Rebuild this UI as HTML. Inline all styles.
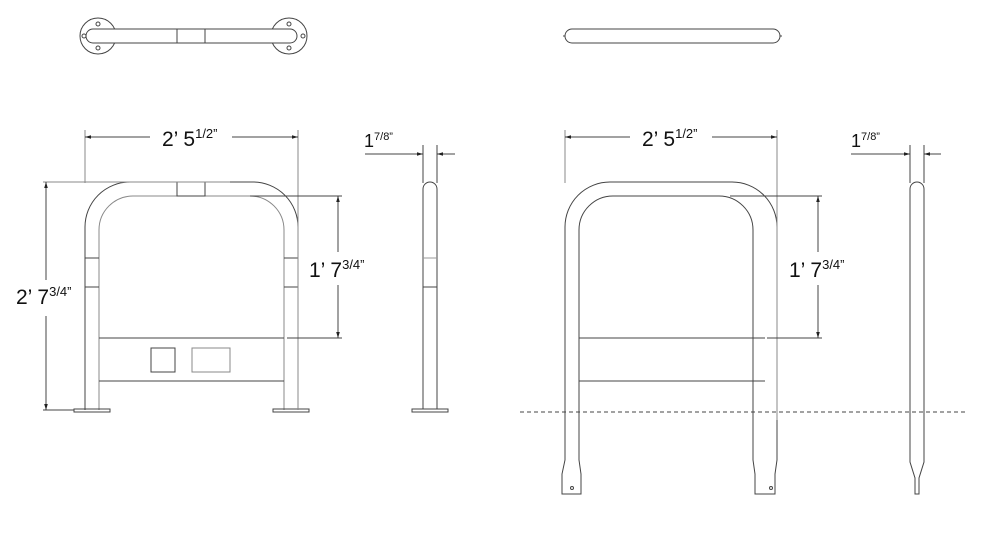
<!DOCTYPE html>
<html><head><meta charset="utf-8"><style>
html,body{margin:0;padding:0;background:#fff;width:1000px;height:546px;overflow:hidden}
svg{display:block}
text{font-family:"Liberation Sans",sans-serif;fill:#111}
</style></head><body>
<svg width="1000" height="546" viewBox="0 0 1000 546" xmlns="http://www.w3.org/2000/svg">
<defs>
<marker id="a" viewBox="0 0 10 6" refX="10" refY="3" markerWidth="6" markerHeight="4" orient="auto-start-reverse"><path d="M0,0L10,3L0,6z" fill="#222"/></marker>
</defs>
<g fill="none" stroke="#444" stroke-width="1">
<circle cx="98" cy="36" r="18"/><circle cx="289" cy="36" r="18"/>
<circle cx="98" cy="24" r="2"/><circle cx="98" cy="48" r="2"/><circle cx="84" cy="36" r="2"/>
<circle cx="289" cy="24" r="2"/><circle cx="289" cy="48" r="2"/><circle cx="303" cy="36" r="2"/>
<rect x="86" y="29" width="211" height="14" rx="7" fill="#fff"/>
<line x1="177" y1="29" x2="177" y2="43"/><line x1="205" y1="29" x2="205" y2="43"/>
<rect x="565" y="29" width="215" height="14" rx="7"/>
<path d="M565,36h-2M780,36h2"/>
<path d="M85,410V227A45,45 0 0 1 130,182H253A45,45 0 0 1 298,227V410"/>
<path d="M99,410V230A34,34 0 0 1 133,196H250A34,34 0 0 1 284,230V410" stroke="#888"/>
<rect x="177" y="182" width="28" height="14"/>
<path d="M85,258H99M85,287H99M284,258H298M284,287H298"/>
<path d="M99,338H284M99,381H284"/>
<rect x="151" y="348" width="24" height="24"/><rect x="192" y="348" width="38" height="24" stroke="#888"/>
<rect x="74" y="409" width="36" height="3"/><rect x="273" y="409" width="36" height="3"/>
<path d="M85,130V183M298,130V410" stroke="#888"/>
<line x1="85" y1="137" x2="150" y2="137" marker-start="url(#a)"/>
<line x1="232" y1="137" x2="298" y2="137" marker-end="url(#a)"/>
<path d="M43,182H230" stroke="#888"/><path d="M43,410H74"/>
<line x1="46" y1="182" x2="46" y2="280" marker-start="url(#a)"/>
<line x1="46" y1="316" x2="46" y2="410" marker-end="url(#a)"/>
<path d="M250,196H342M287,338H342"/>
<line x1="338" y1="196" x2="338" y2="252" marker-start="url(#a)"/>
<line x1="338" y1="285" x2="338" y2="338" marker-end="url(#a)"/>
<path d="M423,409V189A7,7 0 0 1 437,189V409"/>
<path d="M423,258H437" stroke="#999"/><path d="M423,287H437"/>
<rect x="412" y="409" width="36" height="3"/>
<path d="M423,145V183M437,145V183"/>
<line x1="365" y1="154" x2="423" y2="154" marker-end="url(#a)"/>
<line x1="455" y1="154" x2="437" y2="154" marker-end="url(#a)"/>
<path d="M565,460V227A45,45 0 0 1 610,182H732A45,45 0 0 1 777,227V460L775,474V494H755V474L753,460V230A34,34 0 0 0 719,196H613A34,34 0 0 0 579,230V460L581,474V494H562V474Z"/>
<path d="M579,338H765M579,381H765"/>
<circle cx="572" cy="488" r="1.5"/><circle cx="771" cy="488" r="1.5"/>
<path d="M565,130V183M777,130V420" stroke="#888"/>
<line x1="565" y1="137" x2="630" y2="137" marker-start="url(#a)"/>
<line x1="712" y1="137" x2="777" y2="137" marker-end="url(#a)"/>
<path d="M730,196H822M767,338H822"/>
<line x1="818" y1="196" x2="818" y2="252" marker-start="url(#a)"/>
<line x1="818" y1="285" x2="818" y2="338" marker-end="url(#a)"/>
<line x1="520" y1="412" x2="965" y2="412" stroke-dasharray="4,3"/>
<path d="M910,462V189A7,7 0 0 1 924,189V462L919,478V494H915V478Z"/>
<path d="M910,145V183M924,145V183"/>
<line x1="851" y1="154" x2="910" y2="154" marker-end="url(#a)"/>
<line x1="941" y1="154" x2="924" y2="154" marker-end="url(#a)"/>
</g>
<g font-size="21">
<text x="162" y="146">2’ 5<tspan font-size="13" dy="-8">1/2”</tspan></text>
<text x="642" y="146">2’ 5<tspan font-size="13" dy="-8">1/2”</tspan></text>
<text x="16" y="304">2’ 7<tspan font-size="13" dy="-8">3/4”</tspan></text>
<text x="309" y="277">1’ 7<tspan font-size="13" dy="-8">3/4”</tspan></text>
<text x="789" y="277">1’ 7<tspan font-size="13" dy="-8">3/4”</tspan></text>
<text x="364" y="147" font-size="18">1<tspan font-size="11" dy="-7">7/8”</tspan></text>
<text x="851" y="147" font-size="18">1<tspan font-size="11" dy="-7">7/8”</tspan></text>
</g>
</svg>
</body></html>
